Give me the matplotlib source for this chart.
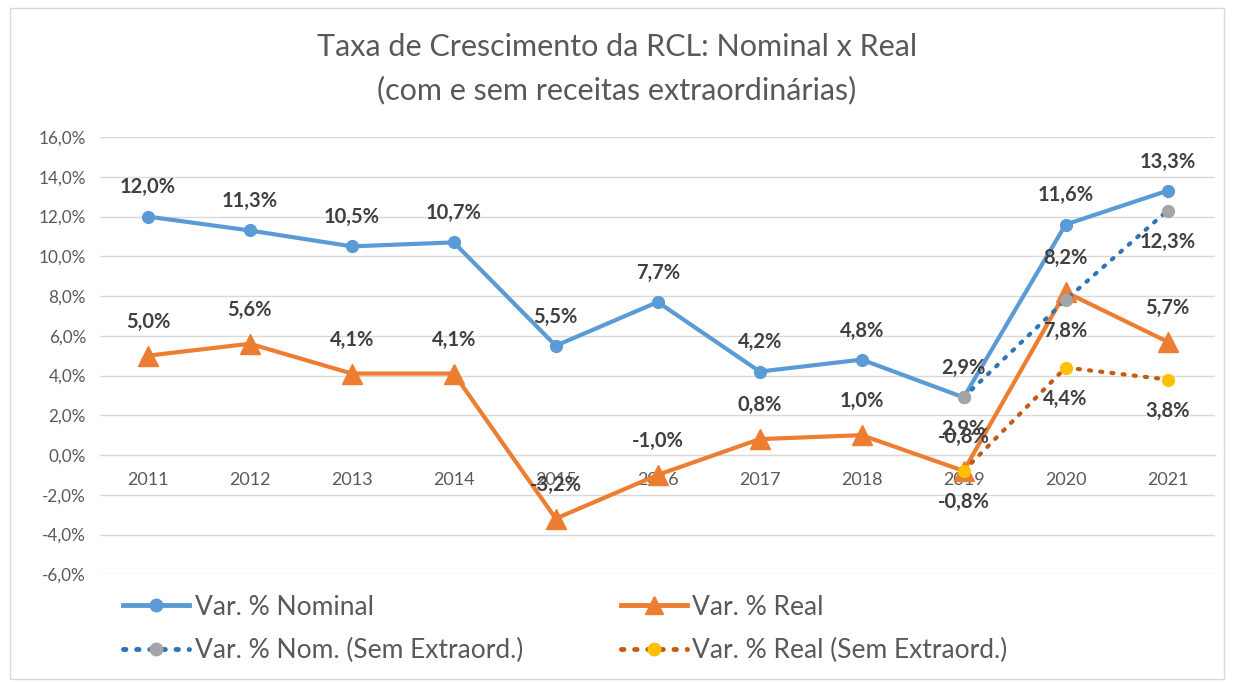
import matplotlib.pyplot as plt
from matplotlib.lines import Line2D
from matplotlib.patches import Rectangle

plt.rcParams['font.family'] = ['Lato', 'DejaVu Sans']

anos = ["2011", "2012", "2013", "2014", "2015", "2016", "2017", "2018", "2019", "2020", "2021"]
nominal = [12.0, 11.3, 10.5, 10.7, 5.5, 7.7, 4.2, 4.8, 2.9, 11.6, 13.3]
real = [5.0, 5.6, 4.1, 4.1, -3.2, -1.0, 0.8, 1.0, -0.8, 8.2, 5.7]
anos_sem = ["2019", "2020", "2021"]
nominal_sem = [2.9, 7.8, 12.3]
real_sem = [-0.8, 4.4, 3.8]
yticks = [-6, -4, -2, 0, 2, 4, 6, 8, 10, 12, 14, 16]

c_nom = "#5B9BD5"
c_real = "#ED7D31"
c_nom_sem = "#2E75B6"
c_real_sem = "#C55A11"
txt = "#595959"
lbl = "#404040"


def fmt(v):
    return f"{v:.1f}%".replace(".", ",")


fig = plt.figure(figsize=(12.34, 6.82), dpi=100)
fig.patches.append(Rectangle((0.008, 0.004), 0.984, 0.985, transform=fig.transFigure,
                             fill=False, edgecolor="#D9D9D9", linewidth=1))
ax = fig.add_axes([0.081, 0.158, 0.904, 0.641])

x = list(range(len(anos)))
xs = [anos.index(a) for a in anos_sem]

ax.plot(x, nominal, color=c_nom, lw=3, marker="o", ms=8.5, zorder=3)
ax.plot(x, real, color=c_real, lw=3, marker="^", ms=15, zorder=4)
ax.plot(xs, nominal_sem, color=c_nom_sem, lw=3, ls=(0, (0.5, 2.2)), dash_capstyle="round",
        marker="o", ms=8.5, mfc="#A5A5A5", mec="#A5A5A5", zorder=5)
ax.plot(xs, real_sem, color=c_real_sem, lw=3, ls=(0, (0.5, 2.2)), dash_capstyle="round",
        marker="o", ms=8.5, mfc="#FFC000", mec="#FFC000", zorder=6)

lab_kw = dict(ha="center", va="center", fontsize=14.5, fontweight="bold", color=lbl,
              textcoords="offset points", zorder=7)
for xi, v in zip(x, nominal):
    ax.annotate(fmt(v), (xi, v), xytext=(0, 21), **lab_kw)
for xi, v in zip(x, real):
    ax.annotate(fmt(v), (xi, v), xytext=(0, 24.5), **lab_kw)
for xi, v in zip(xs, nominal_sem):
    ax.annotate(fmt(v), (xi, v), xytext=(0, -22.5), **lab_kw)
for xi, v in zip(xs, real_sem):
    ax.annotate(fmt(v), (xi, v), xytext=(0, -22.5), **lab_kw)

ax.set_xlim(-0.47, 10.47)
ax.set_ylim(-6, 16)
ax.set_yticks(yticks)
ax.set_yticklabels([fmt(t) for t in yticks])
ax.yaxis.grid(True, color="#D9D9D9", lw=1)
ax.set_axisbelow(True)
ax.tick_params(axis="y", length=0, labelsize=12.3, labelcolor=txt, pad=10)
for s in ["top", "right", "left"]:
    ax.spines[s].set_visible(False)
ax.spines["bottom"].set_position(("data", 0))
ax.spines["bottom"].set_color("#D9D9D9")
ax.set_xticks(x)
ax.set_xticklabels(anos)
ax.tick_params(axis="x", length=0, labelsize=13, labelcolor=txt, pad=12)

fig.text(0.5, 0.931, "Taxa de Crescimento da RCL: Nominal x Real", ha="center", va="center",
         fontsize=22, color=txt)
fig.text(0.5, 0.868, "(com e sem receitas extraordinárias)", ha="center", va="center",
         fontsize=22, color=txt)

handles = [
    Line2D([], [], color=c_nom, lw=3.5, marker="o", ms=9),
    Line2D([], [], color=c_nom_sem, lw=3.5, ls=(0, (0.5, 2.2)), dash_capstyle="round",
           marker="o", ms=9, mfc="#A5A5A5", mec="#A5A5A5"),
    Line2D([], [], color=c_real, lw=3.5, marker="^", ms=13),
    Line2D([], [], color=c_real_sem, lw=3.5, ls=(0, (0.5, 2.2)), dash_capstyle="round",
           marker="o", ms=9, mfc="#FFC000", mec="#FFC000"),
]
names = ["Var. % Nominal", "Var. % Nom. (Sem Extraord.)", "Var. % Real", "Var. % Real (Sem Extraord.)"]
fig.legend(handles, names, ncol=2, loc="upper left", bbox_to_anchor=(0.1, 0.128),
           frameon=False, fontsize=19, labelcolor=txt, handlelength=2.5, handletextpad=0.2,
           columnspacing=3.7, labelspacing=0.68, borderaxespad=0, borderpad=0)

fig.savefig("out.png", dpi=100)
